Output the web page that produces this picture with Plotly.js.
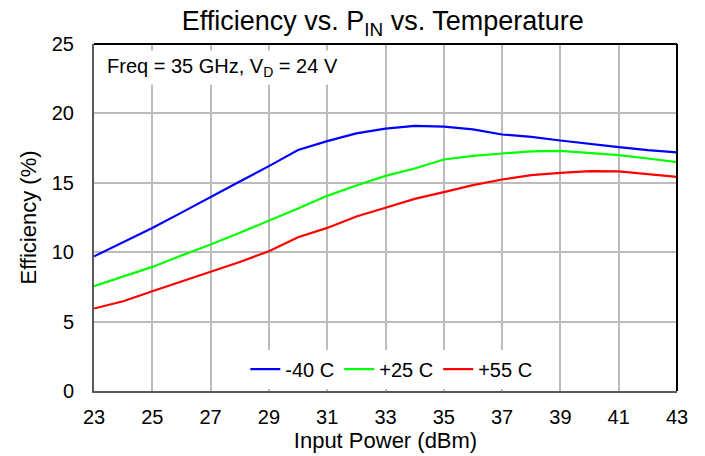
<!DOCTYPE html>
<html><head><meta charset="utf-8">
<script src="https://cdn.plot.ly/plotly-3.0.1.min.js"></script>
<style>html,body{margin:0;padding:0;background:#fff}</style>
</head><body>
<div id="chart" style="width:705px;height:456px"></div>
<script>
const inputPower = [23,24,25,26,27,28,29,30,31,32,33,34,35,36,37,38,39,40,41,42,43];
const effM40 = [9.7,10.7,11.75,12.85,14.0,15.1,16.2,17.36,18.0,18.56,18.9,19.1,19.04,18.85,18.48,18.31,18.05,17.79,17.57,17.35,17.19];
const effP25 = [7.55,8.25,8.94,9.76,10.55,11.4,12.26,13.15,14.06,14.81,15.5,16.03,16.68,16.94,17.11,17.26,17.3,17.16,16.99,16.75,16.49];
const effP55 = [5.94,6.47,7.19,7.88,8.56,9.3,10.07,11.08,11.75,12.57,13.2,13.84,14.33,14.83,15.24,15.55,15.72,15.84,15.82,15.62,15.43];
const seriesNames = ['-40 C','+25 C','+55 C'];
const seriesColors = ['#0000ff','#00ff00','#ff0000'];
const xTicks = [23,25,27,29,31,33,35,37,39,41,43];
const yTicks = [0,5,10,15,20,25];

const ys = [effM40, effP25, effP55];
const traces = ys.map((y,i)=>({
  x: inputPower, y: y, type:'scatter', mode:'lines', name: seriesNames[i],
  line:{color: seriesColors[i], width:2.2}
}));
const ff = '"Liberation Sans", Arial, sans-serif';
const F = s => ({family:ff, size:s, color:'#000'});
const layout = {
  width:705, height:456,
  margin:{l:94, r:28, t:44, b:65},
  paper_bgcolor:'#fff', plot_bgcolor:'#fff',
  font: F(20),
  title:{text:'Efficiency vs. P<sub>IN</sub> vs. Temperature', font:F(27), x:0.543, xanchor:'center', y:0.955, yanchor:'middle'},
  xaxis:{range:[23,43], tickvals:xTicks, ticktext:xTicks.map(String), showgrid:true, gridcolor:'#bcbcbc', gridwidth:2,
    showline:true, linecolor:'#5a5a5a', linewidth:2, ticks:'', zeroline:false, ticklabelstandoff:7,
    tickfont:F(20),
    title:{text:'Input Power (dBm)', font:F(22), standoff:1}},
  yaxis:{range:[0,25], tickvals:yTicks, ticktext:yTicks.map(String), showgrid:true, gridcolor:'#bcbcbc', gridwidth:2,
    showline:true, linecolor:'#5a5a5a', linewidth:2, ticks:'', zeroline:false, ticklabelstandoff:14,
    tickfont:F(20),
    title:{text:'Efficiency (%)', font:F(22), standoff:9}},
  showlegend:true,
  legend:{orientation:'h', x:0.51, xanchor:'center', y:0.063, yanchor:'middle', bgcolor:'#fff',
    font:F(20), itemwidth:30, traceorder:'normal'},
  shapes:[
    {type:'line', xref:'paper', yref:'paper', x0:0, x1:1, y0:1, y1:1, line:{color:'#000', width:2}},
    {type:'line', xref:'paper', yref:'paper', x0:1, x1:1, y0:0, y1:1, line:{color:'#000', width:2}}
  ],
  annotations:[{xref:'paper', yref:'paper', x:0.013, y:0.932, xanchor:'left', yanchor:'middle', showarrow:false,
    text:'Freq = 35 GHz, V<sub>D</sub> = 24 V', font:F(20), bgcolor:'#fff', borderpad:4}]
};
Plotly.newPlot('chart', traces, layout, {displayModeBar:false, staticPlot:true});
</script>
</body></html>
